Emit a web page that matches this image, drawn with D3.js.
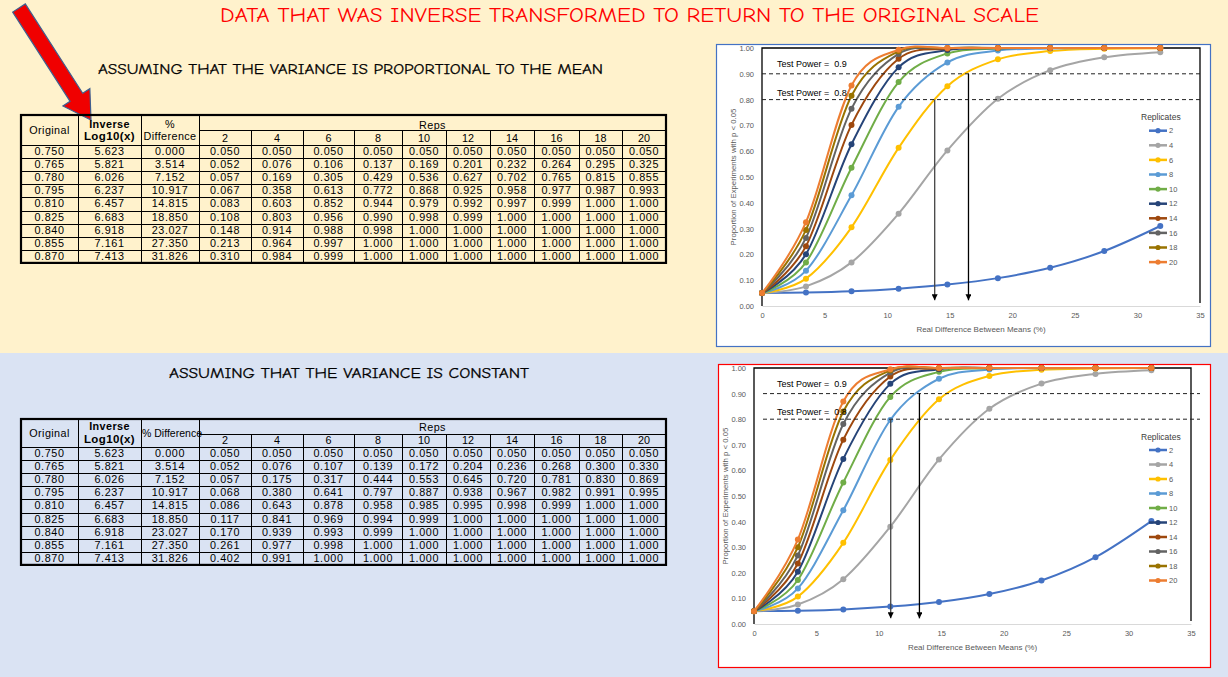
<!DOCTYPE html>
<html>
<head>
<meta charset="utf-8">
<script src="https://cdn.jsdelivr.net/npm/d3@7"></script>
<style>
  body { margin: 0; }
  svg { display: block; }
</style>
</head>
<body>
<div id="page"></div>
<script>
// ---- data ----
const reps = [2, 4, 6, 8, 10, 12, 14, 16, 18, 20];
const original = [0.750, 0.765, 0.780, 0.795, 0.810, 0.825, 0.840, 0.855, 0.870];
const inverseLog = [5.623, 5.821, 6.026, 6.237, 6.457, 6.683, 6.918, 7.161, 7.413];
const pctDiff = [0.000, 3.514, 7.152, 10.917, 14.815, 18.850, 23.027, 27.350, 31.826];

// power by replicates (one list per rep, one value per % difference)
const powerProportional = [
  [0.050, 0.052, 0.057, 0.067, 0.083, 0.108, 0.148, 0.213, 0.310],
  [0.050, 0.076, 0.169, 0.358, 0.603, 0.803, 0.914, 0.964, 0.984],
  [0.050, 0.106, 0.305, 0.613, 0.852, 0.956, 0.988, 0.997, 0.999],
  [0.050, 0.137, 0.429, 0.772, 0.944, 0.990, 0.998, 1.000, 1.000],
  [0.050, 0.169, 0.536, 0.868, 0.979, 0.998, 1.000, 1.000, 1.000],
  [0.050, 0.201, 0.627, 0.925, 0.992, 0.999, 1.000, 1.000, 1.000],
  [0.050, 0.232, 0.702, 0.958, 0.997, 1.000, 1.000, 1.000, 1.000],
  [0.050, 0.264, 0.765, 0.977, 0.999, 1.000, 1.000, 1.000, 1.000],
  [0.050, 0.295, 0.815, 0.987, 1.000, 1.000, 1.000, 1.000, 1.000],
  [0.050, 0.325, 0.855, 0.993, 1.000, 1.000, 1.000, 1.000, 1.000]
];
const powerConstant = [
  [0.050, 0.052, 0.057, 0.068, 0.086, 0.117, 0.170, 0.261, 0.402],
  [0.050, 0.076, 0.175, 0.380, 0.643, 0.841, 0.939, 0.977, 0.991],
  [0.050, 0.107, 0.317, 0.641, 0.878, 0.969, 0.993, 0.998, 1.000],
  [0.050, 0.139, 0.444, 0.797, 0.958, 0.994, 0.999, 1.000, 1.000],
  [0.050, 0.172, 0.553, 0.887, 0.985, 0.999, 1.000, 1.000, 1.000],
  [0.050, 0.204, 0.645, 0.938, 0.995, 1.000, 1.000, 1.000, 1.000],
  [0.050, 0.236, 0.720, 0.967, 0.998, 1.000, 1.000, 1.000, 1.000],
  [0.050, 0.268, 0.781, 0.982, 0.999, 1.000, 1.000, 1.000, 1.000],
  [0.050, 0.300, 0.830, 0.991, 1.000, 1.000, 1.000, 1.000, 1.000],
  [0.050, 0.330, 0.869, 0.995, 1.000, 1.000, 1.000, 1.000, 1.000]
];

const repColors = ["#4472C4", "#A5A5A5", "#FFC000", "#5B9BD5", "#70AD47",
                   "#264478", "#9E480E", "#636363", "#997300", "#ED7D31"];
const yTicks = [0, 0.1, 0.2, 0.3, 0.4, 0.5, 0.6, 0.7, 0.8, 0.9, 1.0];
const xTicks = [0, 5, 10, 15, 20, 25, 30, 35];
const powerLevels = [0.9, 0.8];
const powerLabels = ["Test Power =  0.9", "Test Power =  0.8"];
const arrowsProportional = [13.8, 16.5];
const arrowsConstant = [10.95, 13.25];

// ---- page ----
const W = 1228, H = 677;
const svg = d3.select("#page").append("svg").attr("width", W).attr("height", H);

svg.append("rect").attr("x", 0).attr("y", 0).attr("width", W).attr("height", 353).attr("fill", "#FFF2CC");
svg.append("rect").attr("x", 0).attr("y", 353).attr("width", W).attr("height", H - 353).attr("fill", "#DAE3F3");

const comic = "'Comic Sans MS', 'Comic Neue', 'DejaVu Sans', sans-serif";

svg.append("text").attr("x", 220).attr("y", 22)
  .attr("font-family", comic).attr("font-size", 19.5).attr("fill", "#FF0000")
  .attr("textLength", 819).attr("lengthAdjust", "spacingAndGlyphs")
  .text("DATA THAT WAS INVERSE TRANSFORMED TO RETURN TO THE ORIGINAL SCALE");

svg.append("text").attr("x", 98).attr("y", 73.5)
  .attr("font-family", comic).attr("font-size", 14.5).attr("fill", "#000")
  .attr("stroke", "#000").attr("stroke-width", 0.25)
  .attr("textLength", 505).attr("lengthAdjust", "spacingAndGlyphs")
  .text("ASSUMING THAT THE VARIANCE IS PROPORTIONAL TO THE MEAN");

svg.append("text").attr("x", 169).attr("y", 377.5)
  .attr("font-family", comic).attr("font-size", 14.5).attr("fill", "#000")
  .attr("stroke", "#000").attr("stroke-width", 0.25)
  .attr("textLength", 360).attr("lengthAdjust", "spacingAndGlyphs")
  .text("ASSUMING THAT THE VARIANCE IS CONSTANT");

// big red arrow pointing at the Inverse Log10(x) header
(function() {
  const S = [19, 8], T = [91, 120];
  const dx = T[0] - S[0], dy = T[1] - S[1], len = Math.hypot(dx, dy);
  const u = [dx / len, dy / len], n = [-u[1], u[0]];
  const hl = 27, sw = 7.5, hw = 16;
  const Hp = [T[0] - u[0] * hl, T[1] - u[1] * hl];
  const p = (b, k) => [b[0] + n[0] * k, b[1] + n[1] * k];
  const pts = [p(S, sw), p(Hp, sw), p(Hp, hw), T, p(Hp, -hw), p(Hp, -sw), p(S, -sw)];
  svg.append("polygon").attr("points", pts.map(d => d.join(",")).join(" "))
    .attr("fill", "#F00000").attr("stroke", "#3F5F8F").attr("stroke-width", 1.2);
})();

// ---- tables ----
const colEdges = [21, 78, 141, 199, 251, 303, 354, 402, 446, 490, 534, 579, 622, 666];
const tblFont = "'Liberation Sans', Arial, sans-serif";
const f3 = d3.format(".3f");

function drawTable(t, power) {
  const g = svg.append("g").attr("font-family", tblFont).attr("fill", "#000");
  const e = colEdges, left = e[0], right = e[e.length - 1];
  const bottom = t.dataTop + t.rowH * original.length;

  // rows of cell strings
  const rows = original.map((o, i) =>
    [f3(o), f3(inverseLog[i]), f3(pctDiff[i])].concat(power.map(s => f3(s[i]))));

  const rowG = g.selectAll(".row").data(rows).enter().append("g")
    .attr("transform", (d, i) => `translate(0,${t.dataTop + i * t.rowH})`);
  rowG.selectAll("text").data(d => d).enter().append("text")
    .attr("x", (d, j) => (e[j] + e[j + 1]) / 2)
    .attr("y", t.rowH - 3)
    .attr("text-anchor", "middle").attr("font-size", 10.8).attr("letter-spacing", 0.6)
    .text(d => d);

  // header
  const txt = (x, y, s, opts = {}) => g.append("text").attr("x", x).attr("y", y)
    .attr("text-anchor", opts.anchor || "middle").attr("font-size", opts.size || 10.8)
    .attr("font-weight", opts.bold ? "bold" : "normal").attr("letter-spacing", opts.ls || 0.4).text(s);
  txt((e[0] + e[1]) / 2, (t.top + t.dataTop) / 2 + 4, "Original");
  txt((e[1] + e[2]) / 2, t.top + t.l1, "Inverse", { bold: true });
  txt((e[1] + e[2]) / 2, t.top + t.l2, "Log10(x)", { bold: true, size: 11.5 });
  if (t.pctOneLine) {
    txt(e[2] + 1, (t.top + t.dataTop) / 2 + 4, "% Difference", { anchor: "start", size: 10.5, ls: 0.01 });
  } else {
    txt((e[2] + e[3]) / 2, t.top + t.l1, "%");
    txt((e[2] + e[3]) / 2, t.top + t.l2, "Difference");
  }
  txt((e[3] + right) / 2, t.top + t.l1 + 1, "Reps");
  g.selectAll(".rephead").data(reps).enter().append("text")
    .attr("x", (d, j) => (e[j + 3] + e[j + 4]) / 2)
    .attr("y", t.dataTop - 3)
    .attr("text-anchor", "middle").attr("font-size", 10.8).text(d => d);

  // grid lines
  const line = (x1, y1, x2, y2, w) => g.append("line").attr("x1", x1).attr("y1", y1)
    .attr("x2", x2).attr("y2", y2).attr("stroke", "#000").attr("stroke-width", w || 1);
  [1, 2, 3].forEach(k => line(e[k] + 0.5, t.top, e[k] + 0.5, bottom));
  for (let k = 4; k < e.length - 1; k++) line(e[k] + 0.5, t.mid, e[k] + 0.5, bottom);
  line(e[3], t.mid + 0.5, right, t.mid + 0.5);
  for (let r = 0; r < original.length; r++) {
    const yy = Math.round(t.dataTop + r * t.rowH) + 0.5;
    line(left, yy, right, yy);
  }
  g.append("rect").attr("x", left).attr("y", t.top).attr("width", right - left)
    .attr("height", bottom - t.top).attr("fill", "none").attr("stroke", "#000").attr("stroke-width", 2.2);
}

drawTable({ top: 115, mid: 130, dataTop: 145, rowH: 13.1, l1: 13, l2: 25, pctOneLine: false }, powerProportional);
drawTable({ top: 419, mid: 434, dataTop: 447, rowH: 13.1, l1: 11, l2: 24, pctOneLine: true }, powerConstant);

// ---- charts ----
const chartFont = "'Liberation Sans', Arial, sans-serif";

const defs = svg.append("defs");
defs.append("marker").attr("id", "ahead").attr("viewBox", "0 0 10 10")
  .attr("refX", 10).attr("refY", 5).attr("markerUnits", "userSpaceOnUse")
  .attr("markerWidth", 6).attr("markerHeight", 6).attr("orient", "auto")
  .append("path").attr("d", "M0,0L10,5L0,10Z").attr("fill", "#000");

function drawChart(c, power, arrowsX) {
  const g = svg.append("g").attr("font-family", chartFont);
  g.append("rect").attr("x", c.fx + 0.5).attr("y", c.fy + 0.5).attr("width", c.fw).attr("height", c.fh)
    .attr("fill", "#fff").attr("stroke", c.border).attr("stroke-width", 1.2);

  const x = d3.scaleLinear().domain([0, 35]).range([c.x0, c.x1]);
  const y = d3.scaleLinear().domain([0, 1]).range([c.y0, c.y1]);

  const ya = g.append("g").attr("transform", `translate(${c.x0},0)`)
    .call(d3.axisLeft(y).tickValues(yTicks).tickSize(0).tickPadding(8).tickFormat(d3.format(".2f")));
  ya.select(".domain").remove();
  const xa = g.append("g").attr("transform", `translate(0,${c.y0})`)
    .call(d3.axisBottom(x).tickValues(xTicks).tickSize(0).tickSizeOuter(0).tickPadding(7));
  xa.select(".domain").attr("stroke", "#D9D9D9").attr("stroke-width", 1);
  g.selectAll(".tick text").attr("fill", "#595959").attr("font-size", 7.5).attr("font-family", chartFont);

  // black box round the plot area
  g.append("path").attr("d", `M${c.x0},${c.y0}V${c.y1}H${c.x1}V${c.y0 - 3}`)
    .attr("fill", "none").attr("stroke", "#000").attr("stroke-width", 1.3);

  // axis titles
  g.append("text").attr("x", (c.x0 + c.x1) / 2).attr("y", c.xlabY)
    .attr("text-anchor", "middle").attr("font-size", 8).attr("fill", "#595959")
    .text("Real Difference Between Means (%)");
  g.append("text").attr("transform", `translate(${c.ylabX},${(c.y0 + c.y1) / 2}) rotate(-90)`)
    .attr("text-anchor", "middle").attr("font-size", 7.8).attr("fill", "#595959")
    .text("Proportion of Experiments with p < 0.05");

  // series
  const line = d3.line().x((d, i) => x(pctDiff[i])).y(d => y(d)).curve(d3.curveCardinal.tension(0));
  const sg = g.selectAll(".series").data(power).enter().append("g");
  sg.append("path").attr("d", d => line(d)).attr("fill", "none")
    .attr("stroke", (d, i) => repColors[i]).attr("stroke-width", 2);
  sg.selectAll("circle").data((d, i) => d.map(v => ({ v, i }))).enter().append("circle")
    .attr("cx", (d, k) => x(pctDiff[k])).attr("cy", d => y(d.v)).attr("r", 3)
    .attr("fill", d => repColors[d.i]);

  // test power dashed lines and labels
  powerLevels.forEach((p, k) => {
    g.append("line").attr("x1", c.dashX0).attr("x2", 1200).attr("y1", y(p)).attr("y2", y(p))
      .attr("stroke", "#222").attr("stroke-width", 1).attr("stroke-dasharray", "4,3");
    g.append("text").attr("x", c.labX).attr("y", y(p) - (k === 0 ? 7 : 4))
      .attr("font-size", 9).attr("fill", "#000").style("white-space", "pre")
      .attr("xml:space", "preserve").text(powerLabels[k]);
  });

  // read-off arrows (0.8 then 0.9)
  const levels = [0.8, 0.9];
  arrowsX.forEach((ax, k) => {
    g.append("line").attr("x1", x(ax)).attr("x2", x(ax)).attr("y1", y(levels[k])).attr("y2", y(0.022))
      .attr("stroke", k === 0 ? "#444" : "#000").attr("stroke-width", 1.3).attr("marker-end", "url(#ahead)");
  });

  // legend
  const lg = g.append("g");
  lg.append("text").attr("x", 1141).attr("y", c.legY - 10.5).attr("font-size", 8.5).attr("fill", "#404040")
    .text("Replicates");
  const it = lg.selectAll(".item").data(reps).enter().append("g")
    .attr("transform", (d, i) => `translate(0,${c.legY + i * c.legStep})`);
  it.append("line").attr("x1", 1149).attr("x2", 1167).attr("stroke", (d, i) => repColors[i]).attr("stroke-width", 2.5);
  it.append("circle").attr("cx", 1158).attr("r", 2.6).attr("fill", (d, i) => repColors[i]);
  it.append("text").attr("x", 1169).attr("y", 2.7).attr("font-size", 7.5).attr("fill", "#595959").text(d => d);
}

drawChart({ fx: 716, fy: 44, fw: 494, fh: 302, border: "#4472C4",
            x0: 762, x1: 1200, y0: 306, y1: 48, xlabY: 332, ylabX: 736,
            dashX0: 762, labX: 777, legY: 130.7, legStep: 14.6 },
          powerProportional, arrowsProportional);
drawChart({ fx: 718, fy: 364, fw: 492, fh: 303, border: "#FF0000",
            x0: 754, x1: 1191, y0: 624, y1: 368, xlabY: 650, ylabX: 728,
            dashX0: 763, labX: 777, legY: 450, legStep: 14.5 },
          powerConstant, arrowsConstant);
</script>
</body>
</html>
